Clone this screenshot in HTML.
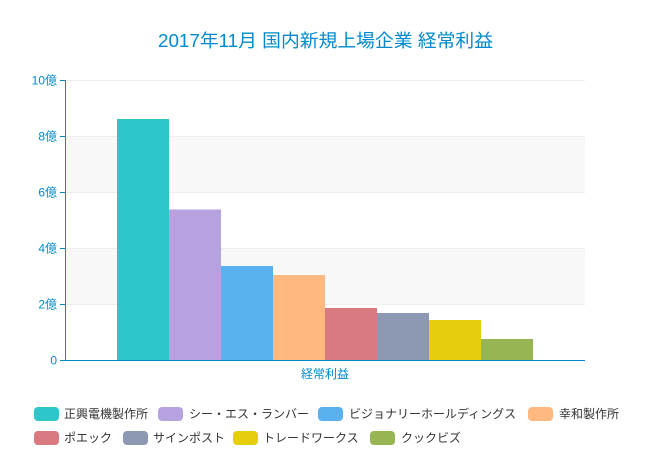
<!DOCTYPE html>
<html>
<head>
<meta charset="utf-8">
<style>
  html, body { margin: 0; padding: 0; background: #ffffff; }
  body { width: 650px; height: 460px; overflow: hidden; }
  svg { display: block; }
  text { font-family: "Liberation Sans", "Noto Sans CJK JP", sans-serif; }
</style>
</head>
<body>
<svg width="650" height="460" viewBox="0 0 650 460" xmlns="http://www.w3.org/2000/svg">
  <rect x="0" y="0" width="650" height="460" fill="#ffffff"/>

  <!-- title -->
  <text x="158" y="47" font-size="18" fill="#008acd" textLength="335" lengthAdjust="spacingAndGlyphs">2017年11月 国内新規上場企業 経常利益</text>

  <!-- split areas -->
  <rect x="65" y="136" width="520" height="56" fill="#f8f8f8"/>
  <rect x="65" y="248" width="520" height="56" fill="#f8f8f8"/>

  <!-- grid lines -->
  <g stroke="#eeeeee" stroke-width="1">
    <line x1="65" y1="80.5" x2="585" y2="80.5"/>
    <line x1="65" y1="136.5" x2="585" y2="136.5"/>
    <line x1="65" y1="192.5" x2="585" y2="192.5"/>
    <line x1="65" y1="248.5" x2="585" y2="248.5"/>
    <line x1="65" y1="304.5" x2="585" y2="304.5"/>
  </g>

  <!-- bars -->
  <rect x="117" y="119" width="52" height="241" fill="#2ec7c9"/>
  <rect x="169" y="209.5" width="52" height="150.5" fill="#b6a2de"/>
  <rect x="221" y="266" width="52" height="94" fill="#5ab1ef"/>
  <rect x="273" y="275" width="52" height="85" fill="#ffb980"/>
  <rect x="325" y="308" width="52" height="52" fill="#d87a80"/>
  <rect x="377" y="313" width="52" height="47" fill="#8d98b3"/>
  <rect x="429" y="320" width="52" height="40" fill="#e5cf0d"/>
  <rect x="481" y="339" width="52" height="21" fill="#97b552"/>

  <!-- axes -->
  <g stroke="#008acd" stroke-width="1">
    <line x1="65.5" y1="80" x2="65.5" y2="360.5"/>
    <line x1="65" y1="360.5" x2="585" y2="360.5"/>
    <line x1="60" y1="80.5" x2="65" y2="80.5"/>
    <line x1="60" y1="136.5" x2="65" y2="136.5"/>
    <line x1="60" y1="192.5" x2="65" y2="192.5"/>
    <line x1="60" y1="248.5" x2="65" y2="248.5"/>
    <line x1="60" y1="304.5" x2="65" y2="304.5"/>
    <line x1="60" y1="360.5" x2="65" y2="360.5"/>
  </g>

  <!-- y labels -->
  <g font-size="12" fill="#008acd" text-anchor="end">
    <text x="57" y="84.5">10億</text>
    <text x="57" y="140.5">8億</text>
    <text x="57" y="196.5">6億</text>
    <text x="57" y="252.5">4億</text>
    <text x="57" y="308.5">2億</text>
    <text x="57" y="364.5">0</text>
  </g>

  <!-- x label -->
  <text x="325" y="378" text-anchor="middle" font-size="12" fill="#008acd">経常利益</text>

  <!-- legend row 1 -->
  <g font-size="12" fill="#333333">
    <rect x="34" y="407" width="25" height="14" rx="4" fill="#2ec7c9"/>
    <text x="64" y="418">正興電機製作所</text>
    <rect x="158" y="407" width="25" height="14" rx="4" fill="#b6a2de"/>
    <text x="189" y="418">シー・エス・ランバー</text>
    <rect x="318" y="407" width="25" height="14" rx="4" fill="#5ab1ef"/>
    <text x="349" y="418">ビジョナリーホールディングス</text>
    <rect x="528" y="407" width="25" height="14" rx="4" fill="#ffb980"/>
    <text x="559" y="418">幸和製作所</text>

    <!-- legend row 2 -->
    <rect x="34" y="431" width="25" height="14" rx="4" fill="#d87a80"/>
    <text x="64" y="442">ポエック</text>
    <rect x="123" y="431" width="25" height="14" rx="4" fill="#8d98b3"/>
    <text x="153" y="442">サインポスト</text>
    <rect x="233" y="431" width="25" height="14" rx="4" fill="#e5cf0d"/>
    <text x="263" y="442">トレードワークス</text>
    <rect x="370" y="431" width="25" height="14" rx="4" fill="#97b552"/>
    <text x="401" y="442">クックビズ</text>
  </g>
</svg>
</body>
</html>
